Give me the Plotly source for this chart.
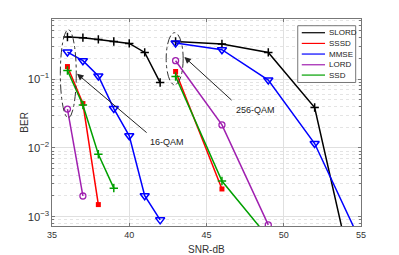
import plotly.graph_objects as go

# ---- data ----
snr_16 = [36, 37, 38, 39, 40, 41, 42]
slord_16 = [0.408, 0.40, 0.377, 0.352, 0.33, 0.244, 0.089]
mmse_16 = [0.247, 0.185, 0.111, 0.0373, 0.0150, 0.00202, 0.0009]
sssd_16 = [0.152, 0.0441, 0.0015]
lord_16 = [0.0366, 0.0020]
ssd_16 = [0.133, 0.042, 0.0081, 0.0026]

snr_256_slord = [43, 46, 49, 52, 54]
slord_256 = [0.352, 0.323, 0.244, 0.0386, 0.0004]
snr_256_mmse = [43, 46, 49, 52, 55]
mmse_256 = [0.334, 0.267, 0.0967, 0.01157, 0.00042]
snr_256_lord = [43, 46, 49]
lord_256 = [0.185, 0.0216, 0.00076]
snr_256_sssd = [43, 46]
sssd_256 = [0.129, 0.00253]
snr_256_ssd = [43, 46, 49]
ssd_256 = [0.109, 0.0033, 0.0005]

x_ticks = [35, 40, 45, 50, 55]
legend_names = ["SLORD", "SSSD", "MMSE", "LORD", "SSD"]

FONT = "Liberation Sans, Arial, sans-serif"

def join(xa, ya, xb, yb):
    return list(xa) + [None] + list(xb), list(ya) + [None] + list(yb)

styles = {
    "SLORD": ("black", dict(symbol="cross-thin-open", size=6, line=dict(width=1.5, color="black"))),
    "SSSD": ("#ff0000", dict(symbol="square", size=5, color="#ff0000")),
    "MMSE": ("#0000ff", dict(symbol="triangle-down-open", size=8, line=dict(width=1.5, color="#0000ff"))),
    "LORD": ("#a020b0", dict(symbol="circle-open", size=6, line=dict(width=1.3, color="#a020b0"))),
    "SSD": ("#00a000", dict(symbol="cross-thin-open", size=6, line=dict(width=1.5, color="#00a000"))),
}

series = [
    ("SLORD", snr_16[:len(slord_16)], slord_16, snr_256_slord, slord_256),
    ("SSSD", snr_16[:len(sssd_16)], sssd_16, snr_256_sssd, sssd_256),
    ("MMSE", snr_16[:len(mmse_16)], mmse_16, snr_256_mmse, mmse_256),
    ("LORD", snr_16[:len(lord_16)], lord_16, snr_256_lord, lord_256),
    ("SSD", snr_16[:len(ssd_16)], ssd_16, snr_256_ssd, ssd_256),
]

fig = go.Figure()
for name, xa, ya, xb, yb in series:
    col, mk = styles[name]
    xs, ys = join(xa, ya, xb, yb)
    fig.add_trace(go.Scatter(x=xs, y=ys, name=name, mode="lines+markers",
                             line=dict(color=col, width=1.5), marker=mk,
                             connectgaps=False, showlegend=False))

# ellipses
fig.add_shape(type="circle", xref="x", yref="y domain", x0=35.54, x1=36.57, y0=0.5225, y1=0.948,
              line=dict(color="#333", width=1, dash="dashdot"))
fig.add_shape(type="circle", xref="x", yref="y domain", x0=42.39, x1=43.49, y0=0.682, y1=0.934,
              line=dict(color="#333", width=1, dash="dashdot"))

# arrows
fig.add_annotation(x=36.62, y=-0.923, ax=41.22, ay=-1.796, xref="x", yref="y",
                   axref="x", ayref="y", text="", showarrow=True, arrowhead=2,
                   arrowsize=1.3, arrowwidth=1, arrowcolor="#222")
fig.add_annotation(x=43.57, y=-0.680, ax=46.72, ay=-1.326, xref="x", yref="y",
                   axref="x", ayref="y", text="", showarrow=True, arrowhead=2,
                   arrowsize=1.3, arrowwidth=1, arrowcolor="#222")
fig.add_annotation(x=42.42, y=-1.913, xref="x", yref="y", text="16-QAM", showarrow=False,
                   font=dict(family=FONT, size=9, color="#222"))
fig.add_annotation(x=48.17, y=-1.447, xref="x", yref="y", text="256-QAM", showarrow=False,
                   font=dict(family=FONT, size=9, color="#222"))

# axis titles
fig.add_annotation(x=-0.09, y=0.50, xref="paper", yref="paper", text="BER", showarrow=False,
                   textangle=-90, xanchor="center", yanchor="middle",
                   font=dict(family=FONT, size=10, color="#333"))
fig.add_annotation(x=0.5, y=-0.115, xref="paper", yref="paper", text="SNR-dB", showarrow=False,
                   xanchor="center", yanchor="middle",
                   font=dict(family=FONT, size=10, color="#333"))

# ---- compact legend (MATLAB style) ----
lg_x0, lg_x1, lg_y0, lg_y1 = 0.7953, 0.9828, 0.6933, 0.9676
lg_rows = [0.9337, 0.882, 0.8307, 0.7789, 0.7291]
ln_x0, ln_x1, mk_x, tx_x = 0.8083, 0.8836, 0.8461, 0.891
fig.add_shape(type="rect", xref="paper", yref="paper", x0=lg_x0, x1=lg_x1, y0=lg_y0, y1=lg_y1,
              line=dict(color="#777", width=1), fillcolor="white", layer="above")
for name, yy in zip(legend_names, lg_rows):
    col, mk = styles[name]
    fig.add_shape(type="line", xref="paper", yref="paper", x0=ln_x0, x1=ln_x1, y0=yy, y1=yy,
                  line=dict(color=col, width=1.2), layer="above")
    fig.add_annotation(x=tx_x, y=yy, xref="paper", yref="paper", text=name, showarrow=False,
                       xanchor="left", yanchor="middle",
                       font=dict(family=FONT, size=8, color="#222"))
    lmk = dict(mk)
    lmk["size"] = max(4, mk["size"] - 1)
    fig.add_trace(go.Scatter(x=[mk_x], y=[yy], xaxis="x2", yaxis="y2", mode="markers",
                             marker=lmk, showlegend=False, hoverinfo="skip", cliponaxis=False))

axis_common = dict(showline=True, linecolor="#777", linewidth=1, mirror="allticks",
                   ticks="inside", ticklen=3, tickcolor="#777",
                   gridcolor="#e0e0e0", gridwidth=1, zeroline=False, automargin=False,
                   tickfont=dict(family=FONT, size=9, color="#333"))

xaxis = dict(range=[35, 55], tickvals=x_ticks, ticktext=[str(v) for v in x_ticks],
             **axis_common)
yaxis = dict(type="log", range=[-3.135, -0.127], dtick=1, exponentformat="power",
             showexponent="all",
             minor=dict(showgrid=True, gridcolor="#e4e4e4", griddash="dot",
                        ticks="inside", ticklen=2, tickcolor="#777", dtick="D1"),
             **axis_common)

# the page body adds an 8 px offset, so the figure is 8 px smaller on each axis
fig.update_layout(
    width=391, height=247,
    margin=dict(l=44, r=38, t=11, b=29),
    paper_bgcolor="white", plot_bgcolor="white",
    font=dict(family=FONT, size=10, color="#333"),
    showlegend=False,
    xaxis=xaxis, yaxis=yaxis,
    xaxis2=dict(overlaying="x", range=[0, 1], visible=False, anchor="y2"),
    yaxis2=dict(overlaying="y", range=[0, 1], visible=False, anchor="x2"),
)

fig.write_html("out.html")
